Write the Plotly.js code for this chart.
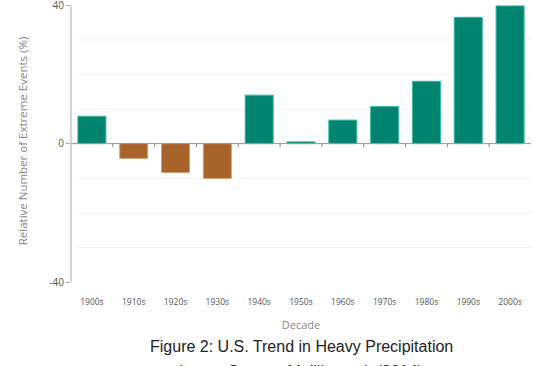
<!DOCTYPE html>
<html>
<head>
<meta charset="utf-8">
<script src="https://cdn.plot.ly/plotly-3.0.1.min.js"></script>
<style>
  html, body { margin: 0; padding: 0; background: #fff; }
  #chart { width: 539px; height: 366px; }
</style>
</head>
<body>
<div id="chart"></div>
<script>
// Relative change in extreme precipitation events by decade (%)
const decades = ['1900s', '1910s', '1920s', '1930s', '1940s', '1950s',
                 '1960s', '1970s', '1980s', '1990s', '2000s'];
const changePct = [7.9, -4.3, -8.4, -10.1, 14.0, 0.5, 6.8, 10.7, 18.0, 36.5, 39.8];
const yTicks = [-40, 0, 40];
const yGrid = [-30, -20, -10, 10, 20, 30];

const fillColors = changePct.map(v => v >= 0 ? '#00846f' : '#a8632b');
const edgeColors = changePct.map(v => v >= 0 ? '#3ab8a3' : '#d9a273');

const trace = {
  type: 'bar',
  x: decades,
  y: changePct,
  marker: { color: fillColors, line: { color: edgeColors, width: 1 } },
  hoverinfo: 'x+y'
};

// faint horizontal guides at every 10 %
const gridShapes = yGrid.map(v => ({
  type: 'line', xref: 'paper', yref: 'y',
  x0: 0.015, x1: 1, y0: v, y1: v,
  line: { color: '#f2f2f2', width: 1 }, layer: 'below'
}));

// small tick marks between categories hanging below the zero line
const sepShapes = decades.slice(1).map((d, i) => ({
  type: 'line', xref: 'x', yref: 'y',
  x0: i + 0.5, x1: i + 0.5, y0: 0, y1: -1.0,
  line: { color: '#888', width: 1 }
}));

const zeroLine = {
  type: 'line', xref: 'paper', yref: 'y',
  x0: 0, x1: 1, y0: 0, y1: 0,
  line: { color: '#999', width: 1 }
};

// vertical axis spine running only between the outer tick values
const ySpine = {
  type: 'line', xref: 'paper', yref: 'y',
  x0: 0, x1: 0, y0: yTicks[0], y1: yTicks[yTicks.length - 1],
  line: { color: '#aaa', width: 1 }
};

const layout = {
  width: 539, height: 366,
  margin: { l: 71, r: 8, t: 0, b: 84 },
  paper_bgcolor: '#fff', plot_bgcolor: '#fff',
  showlegend: false,
  bargap: 0.33,
  font: { family: 'Open Sans, sans-serif', color: '#666' },
  xaxis: {
    type: 'category',
    range: [-0.5, 10.5],
    showgrid: false, zeroline: false, showline: false,
    ticks: '', ticklabelstandoff: 13,
    tickfont: { size: 8.5, color: '#555' },
    title: { text: 'Decade', font: { size: 11, color: '#888' }, standoff: 15 },
    fixedrange: true
  },
  yaxis: {
    range: [-40, 41.5],
    tickvals: yTicks,
    ticktext: yTicks.map(String),
    ticklabeloverflow: 'allow',
    showgrid: false, zeroline: false, showline: false,
    ticks: 'outside', ticklen: 4, tickcolor: '#aaa',
    tickfont: { size: 10, color: '#555' },
    title: { text: 'Relative Number of Extreme Events (%)', font: { size: 11.5, color: '#888' }, standoff: 19 },
    fixedrange: true
  },
  shapes: gridShapes.concat([zeroLine, ySpine], sepShapes),
  annotations: [
    {
      xref: 'paper', yref: 'paper', x: 0.5, y: -0.227,
      xanchor: 'center', yanchor: 'middle', showarrow: false,
      text: 'Figure 2: U.S. Trend in Heavy Precipitation',
      font: { family: 'Liberation Sans, Arial, sans-serif', size: 16, color: '#222' }
    },
    {
      xref: 'paper', yref: 'paper', x: 0.5, y: -0.318,
      xanchor: 'center', yanchor: 'middle', showarrow: false,
      text: 'Image Source: Melillo et al. (2014)',
      font: { family: 'Liberation Sans, Arial, sans-serif', size: 16, color: '#222' }
    }
  ]
};

Plotly.newPlot('chart', [trace], layout, { displayModeBar: false, staticPlot: true });
</script>
</body>
</html>
